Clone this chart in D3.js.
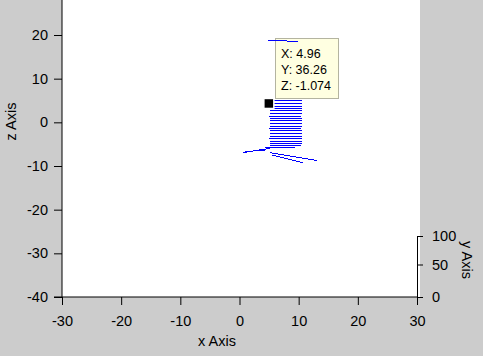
<!DOCTYPE html>
<html>
<head>
<meta charset="utf-8">
<script src="https://cdn.jsdelivr.net/npm/d3@7"></script>
<style>
  body { margin: 0; background: #cccccc; }
  svg { display: block; font-family: "Liberation Sans", Arial, sans-serif; }
  .tick text { font-size: 14.5px; fill: #000; }
</style>
</head>
<body>
<svg id="chart" width="483" height="356"></svg>
<script>
"use strict";

// axis ticks
let xTicks = [-30, -20, -10, 0, 10, 20, 30];
let zTicks = [-40, -30, -20, -10, 0, 10, 20];
let yTicks = [0, 50, 100];

// stacked rows of the curve, all at the same depth
let rowDepth = 36.26;
let rowZ = [-0.51, -1.074, -1.66, -2.23, -2.80, -3.38, -3.95, -4.52, -5.09, -5.67,
            -6.24, -6.81, -7.38, -7.96, -8.53, -9.10, -9.79, -10.25, -10.70];
let rowX0 = [5.02, 4.96, 5.05, 5.10, 5.08, 5.12, 5.06, 5.10, 5.14, 5.08,
             5.11, 5.07, 5.13, 5.09, 5.12, 5.06, 5.10, 5.14, 5.12];
let rowX1 = [10.55, 10.62, 10.48, 10.60, 10.52, 10.58, 10.45, 10.62, 10.50, 10.57,
             10.60, 10.47, 10.55, 10.63, 10.50, 10.58, 10.52, 10.60, 10.46];

// loose strokes (null = pen up)
let extraX = [4.82, 8.03, 9.89, null,
              4.31, 9.38, null,
              0.64, 5.15, null,
              0.93, 4.31, null,
              5.15, 13.05, null,
              5.44, 10.78];
let extraZ = [13.46, 13.23, 13.00, null,
              -11.05, -11.05, null,
              -12.35, -11.34, null,
              -12.12, -11.73, null,
              -12.35, -14.14, null,
              -12.88, -14.64];

// data tip
let tipPoint = { x: 4.96, y: 36.26, z: -1.074 };
let tipLines = ["X: 4.96", "Y: 36.26", "Z: -1.074"];

let svg = d3.select("#chart");

let xScale = d3.scaleLinear().domain([-30, 30]).range([62, 417]);
let zScale = d3.scaleLinear().domain([-40, 20]).range([297, 35]);
// depth pushes points up the screen
let yDepth = d3.scaleLinear().domain([0, 50, 100]).range([0, 32.5, 61]);

function px(p) { return xScale(p.x); }
function py(p) { return zScale(p.z) - yDepth(p.y); }
let plain = function (d) { return String(d); };

// plot area
svg.append("rect").attr("x", 62).attr("y", 0).attr("width", 358).attr("height", 297).attr("fill", "#fff");

// axes lines
svg.append("line").attr("x1", 62).attr("x2", 62).attr("y1", 0).attr("y2", 297).attr("stroke", "#000");
svg.append("line").attr("x1", 54).attr("x2", 418).attr("y1", 297).attr("y2", 297).attr("stroke", "#000");

let zAxis = svg.append("g").attr("transform", "translate(62,0)")
  .call(d3.axisLeft(zScale).tickValues(zTicks).tickFormat(plain).tickSize(8).tickPadding(6));
let xAxis = svg.append("g").attr("transform", "translate(0,297)")
  .call(d3.axisBottom(xScale).tickValues(xTicks).tickFormat(plain).tickSize(8).tickPadding(11));

let yScreen = d3.scaleLinear().domain([0, 50, 100]).range([297, 297 - 32.5, 297 - 61]);
let yAxis = svg.append("g").attr("transform", "translate(" + xScale(30) + ",0)")
  .call(d3.axisRight(yScreen).tickValues(yTicks).tickFormat(plain).tickSize(6).tickSizeOuter(0).tickPadding(9));

[zAxis, xAxis].forEach(function (a) { a.select(".domain").remove(); });
svg.selectAll(".tick line, .domain").attr("stroke", "#000");

// axis titles
svg.append("text").attr("x", 217).attr("y", 346).attr("text-anchor", "middle")
  .style("font-size", "14.5px").text("x Axis");
svg.append("text").attr("transform", "translate(16,121.5) rotate(-90)").attr("text-anchor", "middle")
  .style("font-size", "14.5px").text("z Axis");
svg.append("text").attr("transform", "translate(462,260) rotate(90)").attr("text-anchor", "middle")
  .style("font-size", "14.5px").text("y Axis");

// data tip box
let tip = svg.append("g").attr("transform", "translate(275.5,38.5)");
tip.append("rect").attr("width", 63).attr("height", 60)
  .attr("fill", "#ffffe1").attr("stroke", "#b4b4a0");
tip.selectAll("text").data(tipLines).enter()
  .append("text")
  .attr("x", 5.5)
  .attr("y", function (d, i) { return 19.5 + i * 16; })
  .style("font-size", "12.5px")
  .text(function (d) { return d; });

// build polylines
let paths = [];
rowZ.forEach(function (z, i) {
  paths.push([{ x: rowX0[i], y: rowDepth, z: z }, { x: rowX1[i], y: rowDepth, z: z }]);
});
let cur = [];
extraX.forEach(function (x, i) {
  if (x === null) { paths.push(cur); cur = []; return; }
  cur.push({ x: x, y: rowDepth, z: extraZ[i] });
});
if (cur.length) paths.push(cur);

let line = d3.line().x(px).y(py);
svg.append("g").selectAll("path").data(paths).enter()
  .append("path")
  .attr("d", line)
  .attr("fill", "none")
  .attr("stroke", "#0000ff")
  .attr("stroke-width", 1)
  .style("shape-rendering", "crispEdges");

// data tip marker
svg.append("rect")
  .attr("x", px(tipPoint) - 5).attr("y", py(tipPoint) - 5)
  .attr("width", 10).attr("height", 10)
  .attr("fill", "#000").attr("stroke", "#fff").attr("stroke-width", 1.5);
</script>
</body>
</html>
